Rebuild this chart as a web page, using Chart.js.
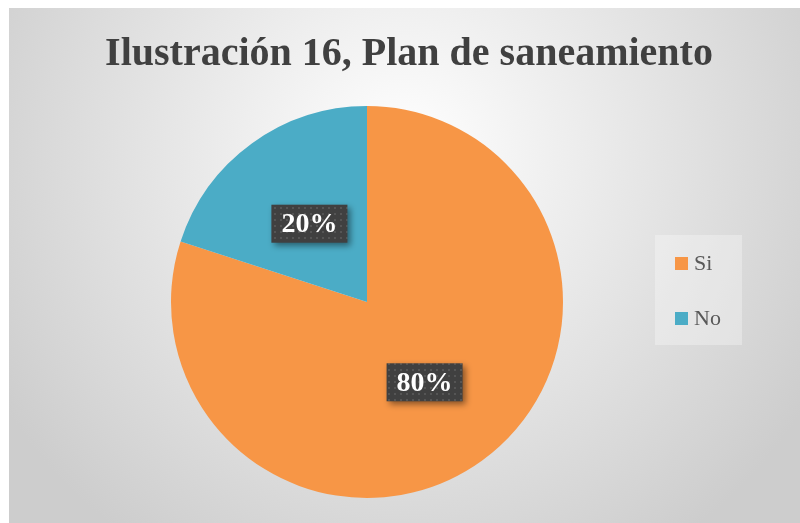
<!DOCTYPE html>
<html>
<head>
<meta charset="utf-8">
<script src="https://cdn.jsdelivr.net/npm/chart.js@4.4.1/dist/chart.umd.min.js"></script>
<style>
    html, body { margin: 0; padding: 0; background: #fff; }
    #wrap { position: absolute; left: 9px; top: 8px; width: 791px; height: 515px; }
</style>
</head>
<body>
<div id="wrap"><canvas id="pieChart"></canvas></div>
<script>
const titleText = "Ilustración 16, Plan de saneamiento";
const labels = ["Si", "No"];
const values = [80, 20];
const colors = ["#F79646", "#4BACC6"];

const FONT = "'Liberation Serif', 'DejaVu Serif', serif";

// radial gray background like the office chart style
const bgPlugin = {
    id: 'bg',
    beforeDraw(chart) {
        const { ctx, width, height } = chart;
        const g = ctx.createRadialGradient(width * 0.5, height * 0.28, 0, width * 0.5, height * 0.28, width * 0.6);
        g.addColorStop(0, '#ffffff');
        g.addColorStop(1, '#cdcdcd');
        ctx.save();
        ctx.fillStyle = g;
        ctx.fillRect(0, 0, width, height);
        // title
        ctx.fillStyle = '#404040';
        ctx.font = "bold 40px " + FONT;
        ctx.textAlign = 'center';
        ctx.textBaseline = 'middle';
        ctx.fillText(titleText, 400, 47);
        ctx.restore();
    }
};

// dark callout boxes with the percentages
function dotPattern(ctx) {
    const c = document.createElement('canvas');
    c.width = 6; c.height = 6;
    const p = c.getContext('2d');
    p.fillStyle = '#404040';
    p.fillRect(0, 0, 6, 6);
    p.fillStyle = '#555555';
    p.fillRect(1, 1, 2, 2);
    return ctx.createPattern(c, 'repeat');
}

const labelPlugin = {
    id: 'pctLabels',
    afterDatasetsDraw(chart) {
        const { ctx } = chart;
        const meta = chart.getDatasetMeta(0);
        const total = values.reduce((a, b) => a + b, 0);
        ctx.save();
        ctx.font = "bold 28px " + FONT;
        ctx.textAlign = 'center';
        ctx.textBaseline = 'middle';
        meta.data.forEach((arc, i) => {
            const pos = arc.tooltipPosition();
            const txt = Math.round(values[i] / total * 100) + '%';
            const w = 76, h = 38;
            ctx.save();
            ctx.shadowColor = 'rgba(0,0,0,0.45)';
            ctx.shadowBlur = 6;
            ctx.shadowOffsetX = 3;
            ctx.shadowOffsetY = 3;
            ctx.fillStyle = dotPattern(ctx);
            ctx.fillRect(pos.x - w / 2, pos.y - h / 2 + 1, w, h);
            ctx.restore();
            ctx.fillStyle = '#ffffff';
            ctx.fillText(txt, pos.x, pos.y + 2);
        });
        ctx.restore();
    }
};

const legendPlugin = {
    id: 'sideLegend',
    afterDraw(chart) {
        const { ctx } = chart;
        ctx.save();
        ctx.fillStyle = 'rgba(255,255,255,0.3)';
        ctx.fillRect(646, 227, 87, 110);
        ctx.font = "22px " + FONT;
        ctx.textBaseline = 'middle';
        labels.forEach((lab, i) => {
            const y = 256 + i * 55;
            ctx.fillStyle = colors[i];
            ctx.fillRect(666, y - 7, 13, 13);
            ctx.fillStyle = '#595959';
            ctx.fillText(lab, 685, y);
        });
        ctx.restore();
    }
};

new Chart(document.getElementById('pieChart'), {
    type: 'pie',
    data: {
        labels: labels,
        datasets: [{
            data: values,
            backgroundColor: colors,
            borderWidth: 0
        }]
    },
    options: {
        responsive: true,
        maintainAspectRatio: false,
        animation: false,
        layout: { padding: { top: 98, bottom: 25, left: 162, right: 237 } },
        plugins: {
            legend: { display: false },
            tooltip: { enabled: false },
            title: { display: false }
        }
    },
    plugins: [bgPlugin, labelPlugin, legendPlugin]
});
</script>
</body>
</html>
